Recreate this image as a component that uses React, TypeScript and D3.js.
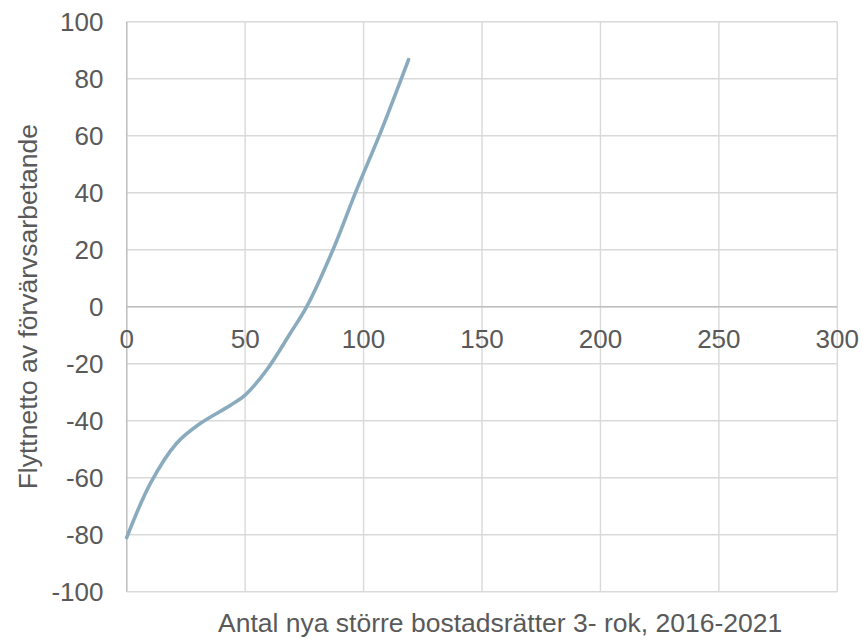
import React from "react";
import * as d3 from "d3";

const xValues = [0, 10, 21, 31, 44, 50, 59, 69, 76, 87, 97, 107, 119];
const yValues = [-81, -62, -48, -41, -34.5, -31, -22.3, -9.4, 0, 19.8, 40.9, 60.8, 86.7];
const xTicks = [0, 50, 100, 150, 200, 250, 300];
const yTicks = [100, 80, 60, 40, 20, 0, -20, -40, -60, -80, -100];
const xTitle = "Antal nya större bostadsrätter 3- rok, 2016-2021";
const yTitle = "Flyttnetto av förvärvsarbetande";

const W = 863;
const H = 639;
const TEXT = "#595959";
const FONT = "'Liberation Sans', Arial, sans-serif";

export default function App() {
  const x = d3.scaleLinear().domain([0, 300]).range([126.7, 837.3]);
  const y = d3.scaleLinear().domain([-100, 100]).range([591.7, 21.7]);
  const pts: [number, number][] = xValues.map((v, i) => [v, yValues[i]]);
  const line = d3
    .line<[number, number]>()
    .x((d) => x(d[0]))
    .y((d) => y(d[1]))
    .curve(d3.curveCatmullRom.alpha(0.5));

  return (
    <svg
      width={W}
      height={H}
      style={{ position: "absolute", left: 0, top: 0, background: "#fff" }}
      fontFamily={FONT}
    >
      {yTicks.map((t) => (
        <line
          key={"gy" + t}
          x1={x(0)}
          x2={x(300)}
          y1={y(t)}
          y2={y(t)}
          stroke="#d9d9d9"
          strokeWidth={1.4}
        />
      ))}
      {xTicks.map((t) => (
        <line
          key={"gx" + t}
          x1={x(t)}
          x2={x(t)}
          y1={y(100)}
          y2={y(-100)}
          stroke="#d9d9d9"
          strokeWidth={1.4}
        />
      ))}
      <line x1={x(0)} x2={x(300)} y1={y(0)} y2={y(0)} stroke="#bfbfbf" strokeWidth={1.4} />
      <line x1={x(0)} x2={x(0)} y1={y(100)} y2={y(-100)} stroke="#bfbfbf" strokeWidth={1.4} />
      <path d={line(pts) || ""} fill="none" stroke="#8aabbe" strokeWidth={3.6} strokeLinecap="round" />
      {yTicks.map((t) => (
        <text key={"ty" + t} x={103.5} y={y(t) + 9} textAnchor="end" fontSize={26} fill={TEXT}>
          {t}
        </text>
      ))}
      {xTicks.map((t) => (
        <text key={"tx" + t} x={x(t)} y={348} textAnchor="middle" fontSize={26} fill={TEXT}>
          {t}
        </text>
      ))}
      <text x={218} y={632} fontSize={26.5} fill={TEXT}>
        {xTitle}
      </text>
      <text
        transform={`translate(37, ${(y(100) + y(-100)) / 2}) rotate(-90)`}
        textAnchor="middle"
        fontSize={26.5}
        fill={TEXT}
      >
        {yTitle}
      </text>
    </svg>
  );
}
